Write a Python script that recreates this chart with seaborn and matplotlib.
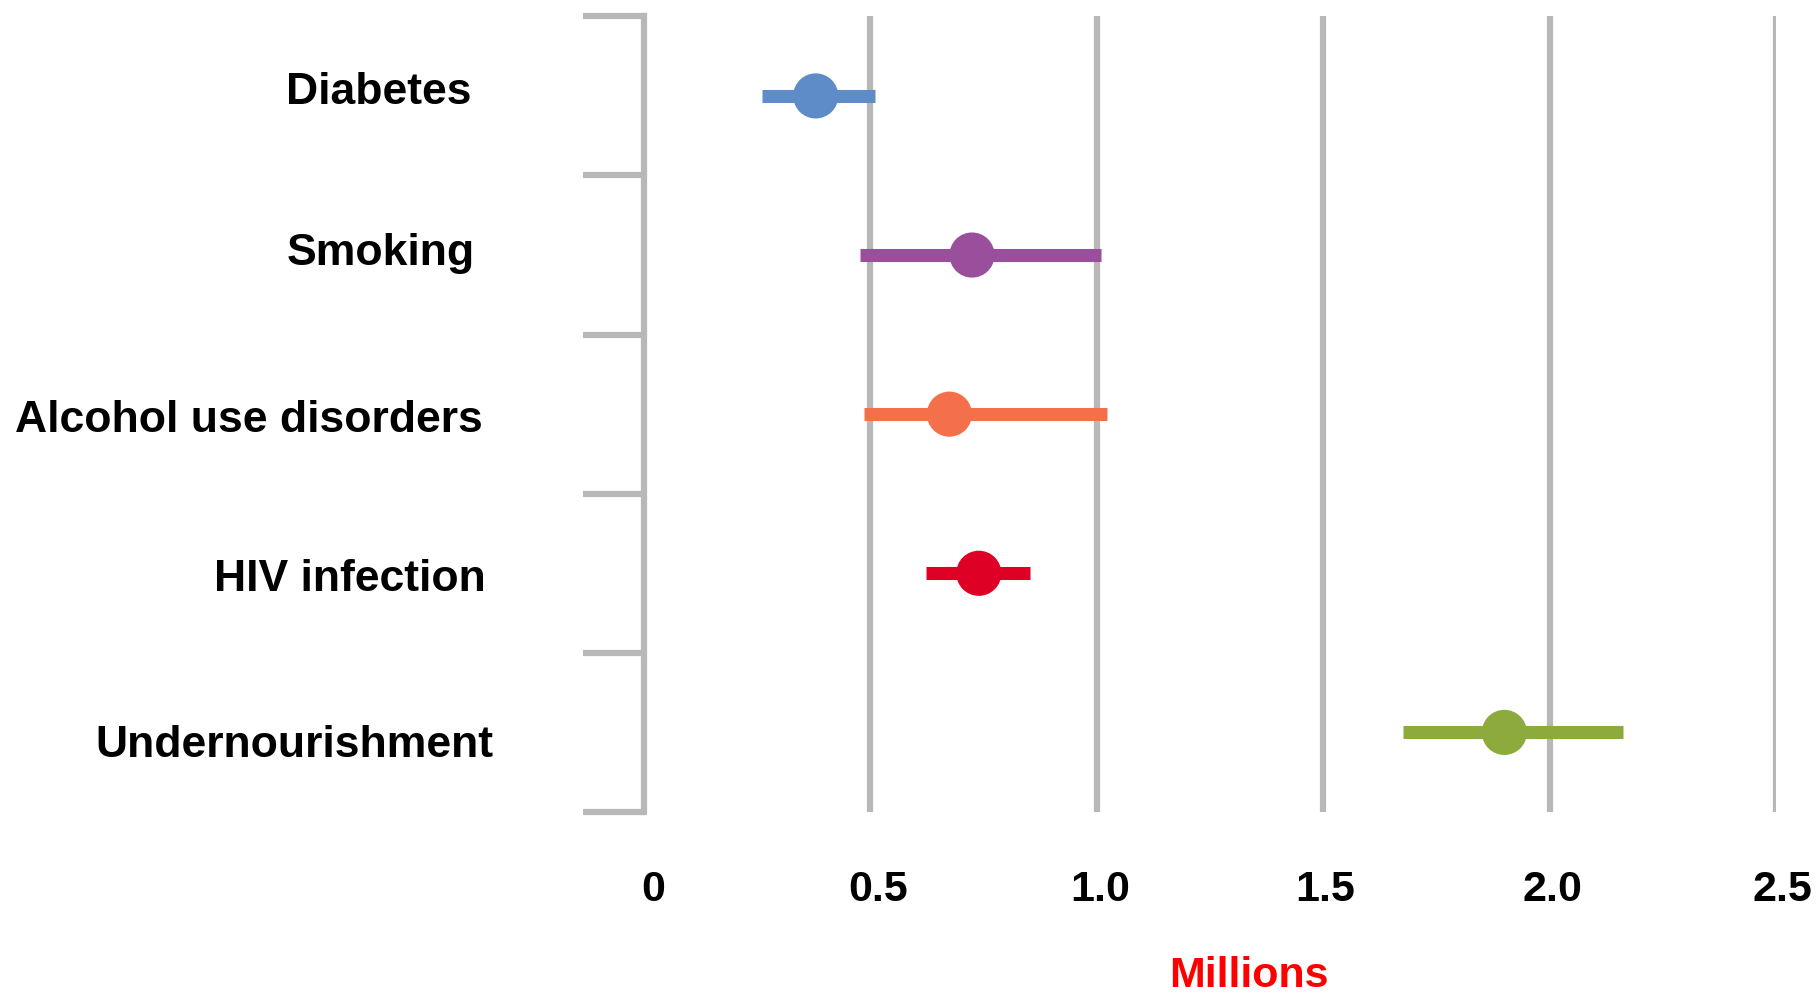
import numpy as np
import pandas as pd
import matplotlib
matplotlib.use("Agg")
import matplotlib.pyplot as plt
import matplotlib.transforms as mtransforms
import seaborn as sns

# Deaths attributable to each risk factor (millions): point estimate and range
categories = ["Diabetes", "Smoking", "Alcohol use disorders", "HIV infection", "Undernourishment"]
estimate = [0.38, 0.725, 0.675, 0.74, 1.90]
lower = [0.262, 0.477, 0.487, 0.623, 1.677]
upper = [0.51, 1.01, 1.023, 0.854, 2.162]
colors = ["#5E8CC9", "#9A4F9D", "#F4704B", "#DE0025", "#8DAA3D"]
x_ticks = [0, 0.5, 1.0, 1.5, 2.0, 2.5]
x_tick_labels = ["0", "0.5", "1.0", "1.5", "2.0", "2.5"]

sns.set_theme(style="white")
plt.rcParams["font.family"] = ["Liberation Sans", "DejaVu Sans"]

df = pd.DataFrame({"category": categories, "estimate": estimate,
                   "lower": lower, "upper": upper})
df["pos"] = np.arange(len(df))

fig = plt.figure(figsize=(18.18, 9.97), dpi=100)
ax = fig.add_axes([0.354, 0.1856, 0.623, 0.798])

grey = "#B8B8B8"

# range bars
for i, row in df.iterrows():
    ax.hlines(row["pos"], row["lower"], row["upper"], color=colors[i],
              linewidth=9.4, capstyle="butt", zorder=3)

# point estimates
sns.scatterplot(data=df, x="estimate", y="pos", hue="category",
                palette=colors, s=32.5 ** 2, linewidth=0, legend=False,
                ax=ax, zorder=4)

ax.set_xlim(0, 2.5)
ax.set_ylim(len(df) - 0.5, -0.5)

# vertical gridlines at every major x tick except the origin
ax.set_xticks(x_ticks)
ax.set_xticklabels(x_tick_labels, fontsize=31, fontweight="bold", color="black")
for xv in x_ticks[1:]:
    ax.axvline(xv, color=grey, linewidth=4.5, zorder=1)
ax.tick_params(axis="x", length=0, pad=42)

# category labels between boundary ticks
ax.set_yticks(df["pos"])
ax.set_yticklabels(categories, fontsize=32, fontweight="bold", color="black")
ax.set_yticks(np.arange(len(df) + 1) - 0.5, minor=True)
ax.tick_params(axis="y", which="major", length=0, pad=117)
ax.tick_params(axis="y", which="minor", length=44, width=4.5, color=grey,
               direction="out", left=True)

# small per-label nudges (pixels) for the hand-placed text look
y_nudges = [(-10, 8), (-6, 6), (2, -2), (5, -2), (12, -9)]
for lbl, (dx, dy) in zip(ax.get_yticklabels(), y_nudges):
    lbl.set_transform(lbl.get_transform() +
                      mtransforms.ScaledTranslation(dx / 100, dy / 100, fig.dpi_scale_trans))
x_nudges = [10, 8, 4, 2, 3, 6]
for lbl, dx in zip(ax.get_xticklabels(), x_nudges):
    lbl.set_transform(lbl.get_transform() +
                      mtransforms.ScaledTranslation(dx / 100, 0, fig.dpi_scale_trans))

for side in ["top", "right", "bottom"]:
    ax.spines[side].set_visible(False)
ax.spines["left"].set_color(grey)
ax.spines["left"].set_linewidth(4.5)

ax.set_xlabel("")
ax.set_ylabel("")

fig.text(1249 / 1818, 1 - 976 / 997, "Millions", color="#FF0000",
         fontsize=31, fontweight="bold", ha="center", va="center")

fig.savefig("out.png", dpi=100, facecolor="white")
